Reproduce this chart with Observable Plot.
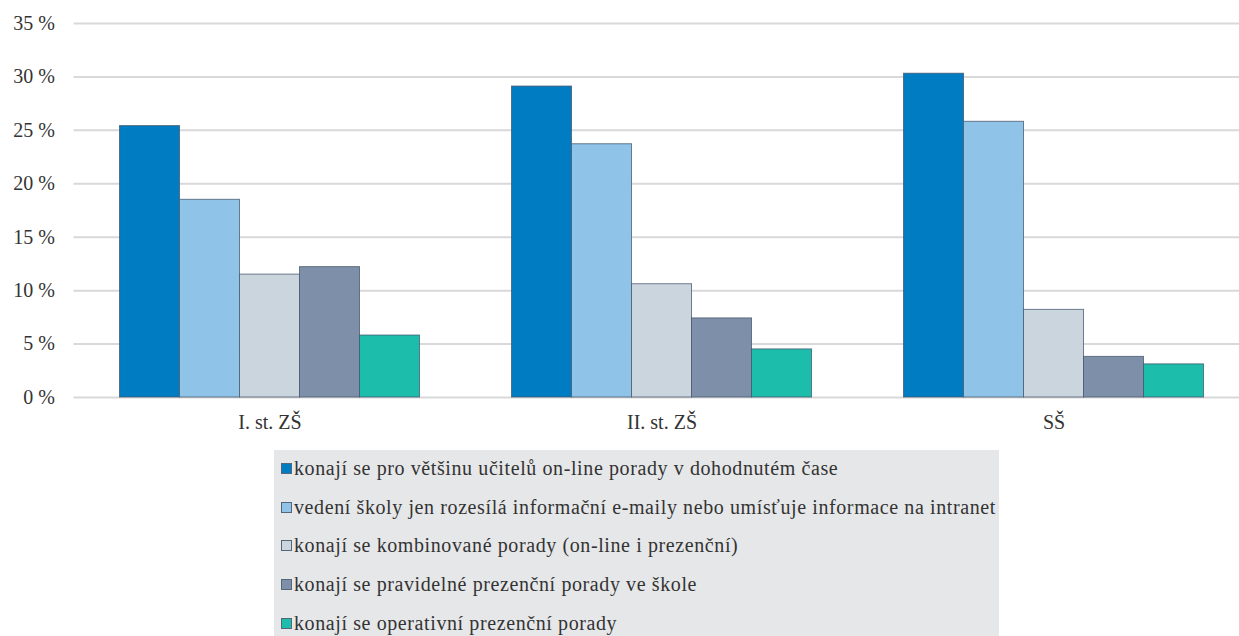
<!DOCTYPE html>
<html>
<head>
<meta charset="utf-8">
<script src="https://cdn.jsdelivr.net/npm/d3@7"></script>
<script src="https://cdn.jsdelivr.net/npm/@observablehq/plot@0.6"></script>
<style>
  html, body { margin: 0; padding: 0; background: #fff; font-family: 'Liberation Serif', serif; }
  #chart { position: relative; width: 1239px; height: 636px; overflow: hidden; }
  #chart svg { position: absolute; left: 0; top: 0; }
  .legend { position: absolute; left: 274px; top: 450px; width: 725px; height: 200px; background: #e6e7e9;
    font-family: 'Liberation Serif', serif; font-size: 20px; letter-spacing: 0.6px; color: #333; }
  .legend .item { position: absolute; left: 7px; height: 24px; line-height: 24px; white-space: nowrap; }
  .legend .sw { display: inline-block; width: 9px; height: 9px; border: 1px solid #55667a; margin-right: 2px; vertical-align: 1px; }
</style>
</head>
<body>
<div id="chart"></div>
<script>
const groups = ["I. st. ZŠ", "II. st. ZŠ", "SŠ"];
const series = [
  "konají se pro většinu učitelů on-line porady v dohodnutém čase",
  "vedení školy jen rozesílá informační e-maily nebo umísťuje informace na intranet",
  "konají se kombinované porady (on-line i prezenční)",
  "konají se pravidelné prezenční porady ve škole",
  "konají se operativní prezenční porady"
];
const colors = ["#007cc3", "#8fc3e8", "#cad5de", "#7e90a9", "#1dbdab"];
const valuesZS1 = [25.4, 18.5, 11.5, 12.2, 5.8];
const valuesZS2 = [29.1, 23.7, 10.6, 7.4, 4.5];
const valuesSS = [30.3, 25.8, 8.2, 3.8, 3.1];
const yTicks = [0, 5, 10, 15, 20, 25, 30, 35];

const allValues = [valuesZS1, valuesZS2, valuesSS];
const data = [];
groups.forEach((g, gi) => series.forEach((s, si) => data.push({group: g, series: s, value: allValues[gi][si]})));

const common = {
  width: 1239,
  height: 445,
  marginTop: 23,
  marginBottom: 48,
  marginLeft: 73.5,
  marginRight: 0,
  style: {fontFamily: "'Liberation Serif', serif", fontSize: "20px", color: "#333", background: "transparent", overflow: "visible"}
};

// Grid + y axis layer
const gridPlot = Plot.plot({
  ...common,
  x: {axis: null},
  y: {domain: [0, 35], ticks: yTicks, tickFormat: d => d + " %", label: null, tickSize: 0, tickPadding: 19},
  marks: [
    Plot.ruleY(yTicks, {stroke: "#d9d9d9", strokeWidth: 2})
  ]
});

// Bars layer (faceted by group)
const barPlot = Plot.plot({
  ...common,
  fx: {domain: groups, range: [73.5, 1249.5], paddingInner: 0.232, paddingOuter: 0.116, label: null, axis: "bottom", tickSize: 0, tickPadding: 17},
  x: {domain: series, padding: 0, axis: null},
  y: {domain: [0, 35], axis: null},
  color: {domain: series, range: colors},
  marks: [
    Plot.barY(data, {fx: "group", x: "series", y: "value", fill: "series", stroke: "#44546a", strokeWidth: 1, strokeOpacity: 0.75})
  ]
});

const chart = document.getElementById("chart");
chart.appendChild(gridPlot);
chart.appendChild(barPlot);

const legend = document.createElement("div");
legend.className = "legend";
series.forEach((s, i) => {
  const item = document.createElement("div");
  item.className = "item";
  item.style.top = (6 + i * 38.7) + "px";
  item.style.fontFamily = "'Liberation Serif', serif";
  const sw = document.createElement("span");
  sw.className = "sw";
  sw.style.background = colors[i];
  item.appendChild(sw);
  item.appendChild(document.createTextNode(s));
  legend.appendChild(item);
});
chart.appendChild(legend);
</script>
</body>
</html>
